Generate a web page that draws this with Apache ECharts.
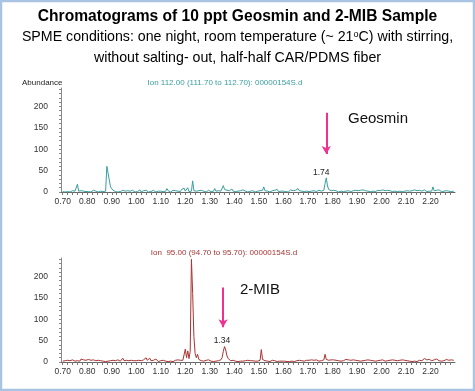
<!DOCTYPE html>
<html><head><meta charset="utf-8">
<script src="https://cdn.jsdelivr.net/npm/echarts@6/dist/echarts.min.js"></script>
<style>html,body{margin:0;padding:0;background:#fff}#c{width:475px;height:391px}</style>
</head><body><div id="c"></div>
<script>
// Retention times (min), shared sampling grid for both ion traces
const retentionTimes = [
0.700,0.705,0.710,0.715,0.720,0.725,0.730,0.735,0.740,0.745,0.750,0.755,0.760,0.765,0.770,0.775,0.780,0.785,0.790,0.795,
0.800,0.805,0.810,0.815,0.820,0.825,0.830,0.835,0.840,0.845,0.850,0.855,0.860,0.865,0.870,0.875,0.880,0.885,0.890,0.895,
0.900,0.905,0.910,0.915,0.920,0.925,0.930,0.935,0.940,0.945,0.950,0.955,0.960,0.965,0.970,0.975,0.980,0.985,0.990,0.995,
1.000,1.005,1.010,1.015,1.020,1.025,1.030,1.035,1.040,1.045,1.050,1.055,1.060,1.065,1.070,1.075,1.080,1.085,1.090,1.095,
1.100,1.105,1.110,1.115,1.120,1.125,1.130,1.135,1.140,1.145,1.150,1.155,1.160,1.165,1.170,1.175,1.180,1.185,1.190,1.195,
1.200,1.205,1.210,1.215,1.220,1.225,1.230,1.235,1.240,1.245,1.250,1.255,1.260,1.265,1.270,1.275,1.280,1.285,1.290,1.295,
1.300,1.305,1.310,1.315,1.320,1.325,1.330,1.335,1.340,1.345,1.350,1.355,1.360,1.365,1.370,1.375,1.380,1.385,1.390,1.395,
1.400,1.405,1.410,1.415,1.420,1.425,1.430,1.435,1.440,1.445,1.450,1.455,1.460,1.465,1.470,1.475,1.480,1.485,1.490,1.495,
1.500,1.505,1.510,1.515,1.520,1.525,1.530,1.535,1.540,1.545,1.550,1.555,1.560,1.565,1.570,1.575,1.580,1.585,1.590,1.595,
1.600,1.605,1.610,1.615,1.620,1.625,1.630,1.635,1.640,1.645,1.650,1.655,1.660,1.665,1.670,1.675,1.680,1.685,1.690,1.695,
1.700,1.705,1.710,1.715,1.720,1.725,1.730,1.735,1.740,1.745,1.750,1.755,1.760,1.765,1.770,1.775,1.780,1.785,1.790,1.795,
1.800,1.805,1.810,1.815,1.820,1.825,1.830,1.835,1.840,1.845,1.850,1.855,1.860,1.865,1.870,1.875,1.880,1.885,1.890,1.895,
1.900,1.905,1.910,1.915,1.920,1.925,1.930,1.935,1.940,1.945,1.950,1.955,1.960,1.965,1.970,1.975,1.980,1.985,1.990,1.995,
2.000,2.005,2.010,2.015,2.020,2.025,2.030,2.035,2.040,2.045,2.050,2.055,2.060,2.065,2.070,2.075,2.080,2.085,2.090,2.095,
2.100,2.105,2.110,2.115,2.120,2.125,2.130,2.135,2.140,2.145,2.150,2.155,2.160,2.165,2.170,2.175,2.180,2.185,2.190,2.195,
2.200,2.205,2.210,2.215,2.220,2.225,2.230,2.235,2.240,2.245,2.250,2.255,2.260,2.265,2.270,2.275,2.280,2.285,2.290,2.295
];

// Ion 112.00 (Geosmin) abundance
const geosminAbundance = [
1,3,0,2,1,4,0,2,3,1,2,0,18,2,1,3,0,2,4,1,
2,1,3,0,2,4,1,2,3,0,1,2,4,1,2,2,60,62,28,12,
8,4,3,1,2,0,3,1,2,4,0,2,1,3,0,2,1,4,2,0,
3,1,2,5,0,2,3,1,4,2,0,3,1,2,4,1,0,3,2,1,
2,4,1,3,2,8,3,1,0,2,4,1,3,0,2,5,1,6,3,9,
2,3,10,1,3,2,26,3,1,2,0,3,2,4,1,2,3,0,2,4,
3,1,2,2,8,2,1,3,4,2,1,15,6,10,4,2,3,1,7,2,
3,1,4,2,0,3,2,5,1,2,3,0,4,2,1,3,2,0,4,2,
1,3,2,4,12,3,1,2,5,0,2,3,1,4,2,6,1,3,2,0,
2,4,1,3,0,2,5,1,3,2,4,1,8,3,0,2,4,1,3,2,
3,1,4,2,0,3,5,1,2,4,3,2,6,4,20,33,14,6,8,3,
2,4,1,3,2,0,4,2,3,1,5,2,0,3,4,1,2,3,0,4,
2,3,1,4,2,5,1,3,0,2,4,1,3,2,5,1,2,4,1,3,
2,5,1,3,2,4,0,3,2,1,4,2,6,1,3,2,4,1,3,2,
1,3,4,2,0,3,2,5,1,3,2,4,1,2,3,5,2,1,4,2,
3,2,12,3,1,4,2,5,3,1,4,2,6,3,5,2,4,1,3,2
];

// Ion 95.00 (2-MIB) abundance
const mibAbundance = [
2,1,3,2,4,1,3,2,5,3,2,6,3,4,2,7,3,5,2,4,
3,6,2,4,3,5,2,3,1,4,2,3,5,2,4,1,3,2,4,3,
2,4,1,3,2,5,3,2,4,9,3,2,4,2,3,1,4,2,3,1,
3,1,4,2,3,2,5,3,10,4,6,9,3,2,4,2,7,3,1,2,
3,2,4,1,2,3,1,4,2,3,1,2,4,3,5,2,4,3,4,8,
30,10,26,8,25,240,160,60,20,10,18,6,4,3,5,2,3,4,2,5,
3,2,4,1,3,2,4,3,2,5,10,25,36,28,14,8,5,3,2,4,
8,2,3,1,4,2,3,2,1,3,2,4,1,3,2,3,1,2,4,2,
3,4,29,6,4,3,5,2,3,1,2,4,1,3,2,1,3,2,1,2,
1,2,3,1,2,1,4,2,3,1,2,3,1,4,2,3,5,2,3,4,
2,4,3,5,2,4,3,5,4,2,6,3,4,5,18,6,3,4,2,5,
3,5,2,4,6,3,4,2,5,3,4,6,3,5,8,4,2,5,3,4,
6,3,4,2,5,3,6,4,3,5,2,4,6,3,5,2,4,3,5,4,
3,5,4,2,6,3,5,4,2,5,3,4,6,3,5,4,2,5,3,4,
5,3,4,2,3,1,4,2,3,1,2,4,1,3,2,8,4,5,3,6,
4,3,6,5,3,7,4,3,5,2,4,3,5,6,3,4,2,5,3,4
];

const xTickLabels = [0.70,0.80,0.90,1.00,1.10,1.20,1.30,1.40,1.50,1.60,1.70,1.80,1.90,2.00,2.10,2.20];
const yTickLabels = [0,50,100,150,200];
// annotated peaks: [label, retention time, apex abundance]
const geosminPeak = ['1.74', 1.775, 33];
const mibPeak = ['1.34', 1.362, 36];

const xMinor = []; for (let v = 70; v <= 228; v += 2) xMinor.push(v / 100);
const yMinor = []; for (let v = 0; v <= 240; v += 10) yMinor.push(v);

const FONT = '"Liberation Sans", Arial, sans-serif';
const teal = '#3a9e9e', red = '#a83434', pink = '#f0328e';

function xAxis(gi) {
  return {
    type: 'value', gridIndex: gi, min: 0.693, max: 2.30,
    axisLine: { show: true, onZero: false, lineStyle: { color: '#666', width: 1 } },
    axisTick: { show: true, customValues: xMinor, length: 3, lineStyle: { color: '#777' } },
    axisLabel: { customValues: xTickLabels, formatter: v => v.toFixed(2), fontSize: 8.5, color: '#333', margin: 5, fontFamily: FONT },
    splitLine: { show: false }
  };
}
function yAxis(gi) {
  return {
    type: 'value', gridIndex: gi, min: 0, max: 243,
    axisLine: { show: true, lineStyle: { color: '#888', width: 1 } },
    axisTick: { show: true, customValues: yMinor, length: 2, lineStyle: { color: '#888' } },
    axisLabel: { customValues: yTickLabels, fontSize: 8.5, color: '#333', margin: 13, fontFamily: FONT },
    splitLine: { show: false }
  };
}
function pairs(vals) { return retentionTimes.map((t, i) => [t, vals[i]]); }

const chart = echarts.init(document.getElementById('c'), null, { renderer: 'canvas' });
chart.setOption({
  backgroundColor: '#fff',
  animation: false,
  title: [
    { text: 'Chromatograms of 10 ppt Geosmin and 2-MIB Sample', left: 'center', top: 9, padding: 0,
      textStyle: { fontFamily: FONT, fontSize: 15.6, fontWeight: 'bold', color: '#000' } },
    { text: 'SPME conditions: one night, room temperature (~ 21{sup|o}C) with stirring,', left: 'center', top: 30, padding: 0,
      textStyle: { fontFamily: FONT, fontSize: 14.2, fontWeight: 'normal', color: '#000',
        rich: { sup: { fontFamily: FONT, fontSize: 9, verticalAlign: 'top', padding: [0,0,6,0], color: '#000' } } } },
    { text: 'without salting- out, half-half CAR/PDMS fiber', left: 'center', top: 51, padding: 0,
      textStyle: { fontFamily: FONT, fontSize: 14.2, fontWeight: 'normal', color: '#000' } },
    { text: 'Ion 112.00 (111.70 to 112.70): 00000154S.d', left: 225, top: 79, textAlign: 'center', padding: 0,
      textStyle: { fontFamily: FONT, fontSize: 8, fontWeight: 'normal', color: teal } },
    { text: 'Ion  95.00 (94.70 to 95.70): 00000154S.d', left: 224, top: 249, textAlign: 'center', padding: 0,
      textStyle: { fontFamily: FONT, fontSize: 8, fontWeight: 'normal', color: red } },
    { text: 'Abundance', left: 22, top: 79, padding: 0,
      textStyle: { fontFamily: FONT, fontSize: 8, fontWeight: 'normal', color: '#222' } },
    { text: 'Geosmin', left: 348, top: 111, padding: 0,
      textStyle: { fontFamily: FONT, fontSize: 15, fontWeight: 'normal', color: '#111' } },
    { text: '2-MIB', left: 240, top: 282, padding: 0,
      textStyle: { fontFamily: FONT, fontSize: 15, fontWeight: 'normal', color: '#111' } }
  ],
  grid: [
    { left: 61, top: 88, width: 394, height: 104 },
    { left: 61, top: 258, width: 394, height: 104 }
  ],
  xAxis: [xAxis(0), xAxis(1)],
  yAxis: [yAxis(0), yAxis(1)],
  series: [
    { type: 'line', xAxisIndex: 0, yAxisIndex: 0, data: pairs(geosminAbundance), showSymbol: false,
      lineStyle: { color: teal, width: 1 }, itemStyle: { color: teal },
      markPoint: { symbol: 'circle', symbolSize: 0, silent: true,
        label: { show: true, position: 'top', distance: 1, offset: [-5, 0], formatter: geosminPeak[0], fontSize: 8.5, color: '#222', fontFamily: FONT },
        data: [{ coord: [geosminPeak[1], geosminPeak[2]] }] },
      markLine: { silent: true, symbol: ['none', 'arrow'], symbolSize: [7, 8], label: { show: false },
        lineStyle: { color: pink, width: 2, type: 'solid' },
        data: [[{ coord: [geosminPeak[1], 185] }, { coord: [geosminPeak[1], 89] }]] } },
    { type: 'line', xAxisIndex: 1, yAxisIndex: 1, data: pairs(mibAbundance), showSymbol: false,
      lineStyle: { color: red, width: 1 }, itemStyle: { color: red },
      markPoint: { symbol: 'circle', symbolSize: 0, silent: true,
        label: { show: true, position: 'top', distance: 1, offset: [-3, 0], formatter: mibPeak[0], fontSize: 8.5, color: '#222', fontFamily: FONT },
        data: [{ coord: [mibPeak[1], mibPeak[2]] }] },
      markLine: { silent: true, symbol: ['none', 'arrow'], symbolSize: [7, 8], label: { show: false },
        lineStyle: { color: pink, width: 2, type: 'solid' },
        data: [[{ coord: [1.354, 174] }, { coord: [1.354, 81] }]] } }
  ],
  graphic: [
    { type: 'rect', silent: true, z: 100, shape: { x: 1, y: 1, width: 473, height: 389 },
      style: { fill: null, stroke: '#a9c3e2', lineWidth: 2.5 } }
  ]
});
</script></body></html>
